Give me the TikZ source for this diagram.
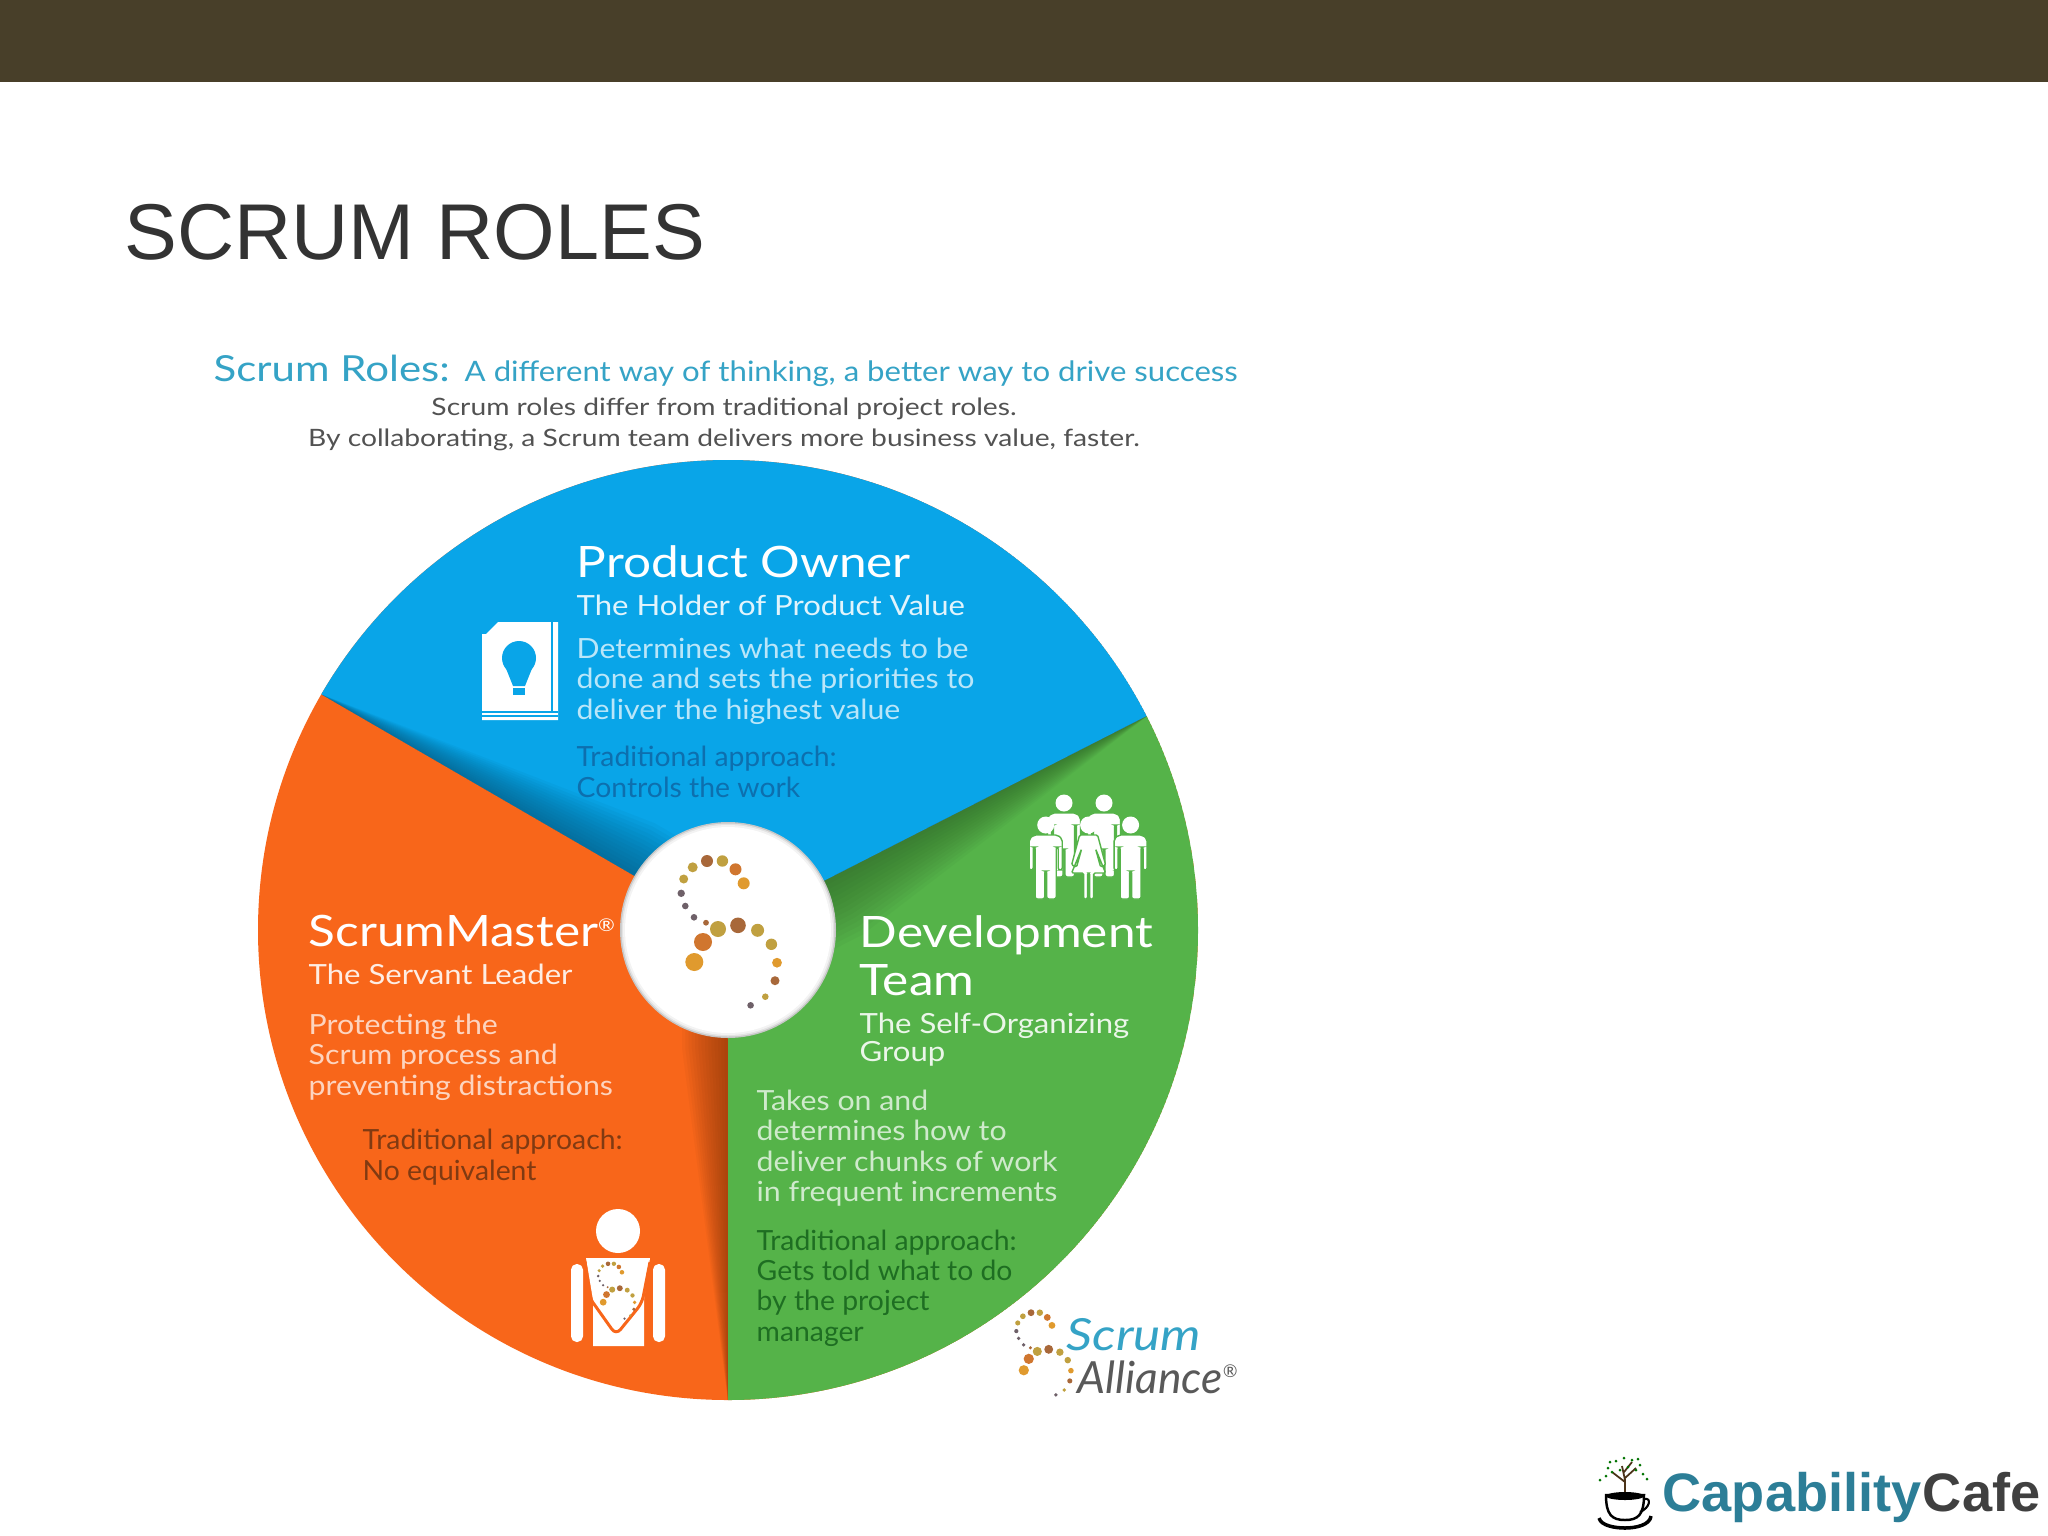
\documentclass[tikz,border=0pt]{standalone}
\usepackage{fontspec}
\usepackage[dvipsnames]{xcolor}
\usetikzlibrary{calc}
\setmainfont{Lato}
\newfontfamily\arialfont{Liberation Sans}
\newfontfamily\titlefont[FakeStretch=1.145]{Lato}
\newfontfamily\subfont[FakeStretch=1.12]{Lato}
\newfontfamily\bodyfont[FakeStretch=1.09]{Lato}
\newfontfamily\oldfont[FakeStretch=1.02]{Lato}
\newfontfamily\leadfont[FakeStretch=1.18]{Lato}
\newfontfamily\headfont[FakeStretch=1.17]{Lato}
\newfontfamily\tagfont[FakeStretch=1.107]{Lato}
\newfontfamily\scrumfont[FakeStretch=1.16]{Lato Italic}
\definecolor{barcol}{HTML}{483F29}
\definecolor{bluecol}{HTML}{09A5E8}
\definecolor{orangecol}{HTML}{F8661A}
\definecolor{greencol}{HTML}{55B349}
\definecolor{headcol}{HTML}{35A3C6}
\definecolor{capcol}{HTML}{2C7E97}
\definecolor{oldblue}{HTML}{0D6FAE}
\definecolor{oldorange}{HTML}{803A12}
\definecolor{oldgreen}{HTML}{1E6E22}
\definecolor{dotcola}{HTML}{A8683A}
\definecolor{dotcolb}{HTML}{C0A040}
\definecolor{dotcolc}{HTML}{D0762F}
\definecolor{dotcold}{HTML}{E09A2E}
\definecolor{dotcole}{HTML}{6E6068}
\newcommand{\fsize}[2]{\fontsize{#1pt}{#2pt}\selectfont}
\newcommand{\scrumdots}{
    \foreach \dx/\dy/\dr/\dc in {-21/-69/6/dotcola,-5.6/-69/5.7/dotcolb,7.5/-60.7/6/dotcolc,15.7/-46.7/6/dotcold,
        -35.3/-62.7/5/dotcolb,-44.3/-51/4.5/dotcolb,-46.8/-36.7/3.7/dotcole,-42.7/-24/3.3/dotcole,-34/-12.7/3.3/dotcole,
        -22/-7.3/2.9/dotcola,-10/-1/8/dotcolb,10/-4.7/7.8/dotcola,29.6/0.3/6.5/dotcolb,43.4/14.3/5.7/dotcolb,
        49/32.7/4.9/dotcold,47/50.7/4.5/dotcola,37.3/66.7/3.3/dotcolb,22.6/75.3/3.3/dotcole,-25/12/9/dotcolc,-33.7/32/9/dotcold}
        {\fill[\dc] (\dx,\dy) circle (\dr);}
}
\newcommand{\manfig}[2]{
    \begin{scope}[shift={(#1,#2)}]
        \fill[white] (0,0) circle (8.5);
        \filldraw[white,draw=greencol,line width=.4pt,rounded corners=.6pt] (-12,10) -- (12,10) -- (16.5,14) -- (16.5,45) -- (12.5,45) -- (12.5,22) -- (10.5,22) -- (10.5,74) -- (1,74) -- (1,46) -- (-1,46) -- (-1,74) -- (-10.5,74) -- (-10.5,22) -- (-12.5,22) -- (-12.5,45) -- (-16.5,45) -- (-16.5,14) -- cycle;
    \end{scope}
}
\newcommand{\spokeshadow}[4]{
    \foreach \i in {1,...,14}
        {\fill[#1,opacity=.05] ($(hub)!.15!(#2)$) -- (#2) -- ($(hub)!.25!(#2)+({#3*\i/14},{#4*\i/14})$) -- ($(hub)+({#3*\i/14},{#4*\i/14})$) -- cycle;}
}
\begin{document}
\begin{tikzpicture}[x=0.01cm,y=-0.01cm,inner sep=0pt,
    slide title/.style={anchor=west,font=\arialfont\fsize{22.5}{28},text=black!80},
    head one/.style={anchor=base west,font=\headfont\fsize{10.2}{12},text=headcol},
    head two/.style={anchor=base west,font=\tagfont\fsize{8}{10},text=headcol},
    lead text/.style={anchor=center,font=\leadfont\fsize{6.8}{9},text=black!68},
    role title/.style={anchor=west,font=\titlefont\fsize{12.3}{14},text=white},
    role sub/.style={anchor=west,align=left,font=\subfont\fsize{7.9}{8},text=white!88!#1},
    role body/.style={anchor=west,align=left,font=\bodyfont\fsize{7.9}{8.65},text=white!72!#1},
    role old/.style={anchor=west,align=left,font=\oldfont\fsize{7.9}{8.65},text=#1}]
    \useasboundingbox (0,0) rectangle (2048,1536);
    \fill[white] (0,0) rectangle (2048,1536);
    \fill[barcol] (0,0) rectangle (2048,82);

    \node[slide title] (title) at (124,232) {SCRUM ROLES};
    \node[head one] (headA) at (213,381) {Scrum Roles:};
    \node[head two] (headB) at (464,381) {A different way of thinking, a better way to drive success};
    \node[lead text] (leadA) at (724,409) {Scrum roles differ from traditional project roles.};
    \node[lead text] (leadB) at (724,440) {By collaborating, a Scrum team delivers more business value, faster.};

    \coordinate (hub) at (728,930);
    \coordinate (rimL) at (322.6,695);
    \coordinate (rimR) at (1147,716);
    \coordinate (rimB) at (728,1400);
    \begin{scope}
        \clip (hub) circle (470);
        \fill[orangecol] (hub) circle (470);
        \fill[greencol] (hub) -- ($(hub)!1.2!(rimR)$) -- (1400,1500) -- ($(hub)!1.2!(rimB)$) -- cycle;
        \fill[bluecol] (hub) -- ($(hub)!1.2!(rimL)$) -- (200,300) -- (1300,300) -- ($(hub)!1.2!(rimR)$) -- cycle;
        \begin{scope}
            \clip (hub) -- ($(hub)!1.2!(rimL)$) -- (200,300) -- (1300,300) -- ($(hub)!1.2!(rimR)$) -- cycle;
            \spokeshadow{bluecol!45!black}{rimL}{28}{-48}
        \end{scope}
        \begin{scope}
            \clip (hub) -- ($(hub)!1.2!(rimR)$) -- (1400,1500) -- ($(hub)!1.2!(rimB)$) -- cycle;
            \spokeshadow{greencol!50!black}{rimR}{30}{58}
        \end{scope}
        \begin{scope}
            \clip (hub) -- ($(hub)!1.2!(rimB)$) -- (200,1500) -- (100,930) -- ($(hub)!1.2!(rimL)$) -- cycle;
            \spokeshadow{orangecol!45!black}{rimB}{-46}{0}
        \end{scope}
    \end{scope}
    \fill[black!22] (hub) circle (108);
    \fill[white,opacity=.5] (hub) circle (106.5);
    \fill[white,opacity=.6] (hub) circle (105);
    \fill[white] (hub) circle (103);
    \begin{scope}[shift={(hub)}]
        \scrumdots
    \end{scope}

    \node[role title] (owner) at (576,562) {Product Owner};
    \node[role sub=bluecol] (ownerSub) at (576,605) {The Holder of Product Value};
    \node[role body=bluecol] (ownerBody) at (576,681) {Determines what needs to be\\done and sets the priorities to\\deliver the highest value};
    \node[role old=oldblue] (ownerOld) at (576,772) {Traditional approach:\\Controls the work};

    \node[role title] (master) at (308,931) {ScrumMaster\textsuperscript{\tiny ®}};
    \node[role sub=orangecol] (masterSub) at (308,974) {The Servant Leader};
    \node[role body=orangecol] (masterBody) at (308,1057) {Protecting the\\Scrum process and\\preventing distractions};
    \node[role old=oldorange] (masterOld) at (362,1157) {Traditional approach:\\No equivalent};

    \node[role title] (devA) at (859,935) {Development};
    \node[role title] (devB) at (859,980) {Team};
    \node[role sub=greencol] (devSub) at (859,1040) {The Self-Organizing\\Group};
    \node[role body=greencol] (devBody) at (756,1148) {Takes on and\\determines how to\\deliver chunks of work\\in frequent increments};
    \node[role old=oldgreen] (devOld) at (756,1288) {Traditional approach:\\Gets told what to do\\by the project\\manager};

    \fill[white] (486,634) -- (498,622) -- (558,622) -- (558,720) -- (482,720) -- (482,634) -- cycle;
    \draw[bluecol,line width=.5pt] (482,712) -- (558,712) (482,716) -- (558,716);
    \draw[bluecol,line width=.5pt] (552,622) -- (552,712);
    \fill[bluecol] (519,658) circle (17);
    \fill[bluecol] (505,666) -- (533,666) -- (525,686) -- (513,686) -- cycle;
    \fill[bluecol] (513,688) rectangle (525,695);

    \manfig{1064}{803}
    \manfig{1104}{803}
    \manfig{1045.7}{825}
    \manfig{1130.6}{825}
    \begin{scope}[shift={(1088.6,825)}]
        \fill[white] (0,0) circle (8.5);
        \filldraw[white,draw=greencol,line width=.4pt,rounded corners=.4pt] (-9,10) -- (9,10) -- (17,40) -- (12,42) -- (7,24) -- (17,48) -- (5,48) -- (5,74) -- (1,74) -- (1,48) -- (-1,48) -- (-1,74) -- (-5,74) -- (-5,48) -- (-17,48) -- (-7,24) -- (-12,42) -- (-17,40) -- cycle;
    \end{scope}

    \fill[white] (618,1231) circle (22);
    \fill[white,rounded corners=1.6pt] (571,1264) rectangle (583,1342);
    \fill[white,rounded corners=1.6pt] (653,1264) rectangle (665,1342);
    \fill[white] (586,1258) -- (650,1258) -- (644,1300) -- (644,1346) -- (593,1346) -- (593,1300) -- cycle;
    \draw[orangecol,line width=.85pt,rounded corners=2pt] (585,1262) -- (589,1297) -- (616,1335) -- (642,1303) -- (650,1262);
    \begin{scope}[shift={(616,1290)},scale=.38]
        \scrumdots
    \end{scope}

    \begin{scope}[shift={(1043,1352)},scale=.57]
        \scrumdots
    \end{scope}
    \node[anchor=west,font=\scrumfont\fsize{12.6}{14},text=headcol] (alliA) at (1066,1335) {Scrum};
    \node[anchor=west,font=\itshape\fsize{12.6}{14},text=black!65] (alliB) at (1077,1377) {Alliance\textsuperscript{\tiny ®}};

    \draw[black!60!brown,line width=.5pt] (1625,1496) -- (1625,1480) -- (1622,1466) (1625,1482) -- (1612,1472) (1625,1478) -- (1636,1468) (1624,1472) -- (1632,1462);
    \foreach \lx/\ly in {1616/1461,1624/1458,1632/1460,1608/1468,1640/1465,1600/1480,1606/1476,1612/1472,1620/1470,1628/1467,1636/1470,1643/1474,1647/1479,1610/1462,1638/1459}
        {\fill[black!55!green] (\lx,\ly) circle (1.5);}
    \draw[black,line width=.7pt,fill=white] (1606,1495) .. controls (1606,1515) and (1612,1520) .. (1625,1520) .. controls (1638,1520) and (1644,1515) .. (1644,1495) -- cycle;
    \draw[black,line width=.6pt] (1644,1499) .. controls (1652,1497) and (1650,1508) .. (1640,1512);
    \fill[black] (1625,1496) ellipse (19 and 4);
    \draw[black,line width=1pt] (1599,1518) .. controls (1601,1526) and (1616,1528) .. (1625,1528) .. controls (1636,1528) and (1650,1525) .. (1651,1516);
    \node[anchor=base west,font=\arialfont\bfseries\fsize{15.4}{16},text=capcol] (capA) at (1662,1511) {Capability};
    \node[anchor=base west,font=\arialfont\bfseries\fsize{15.4}{16},text=black!75] (capB) at (capA.base east) {Cafe};
\end{tikzpicture}
\end{document}
